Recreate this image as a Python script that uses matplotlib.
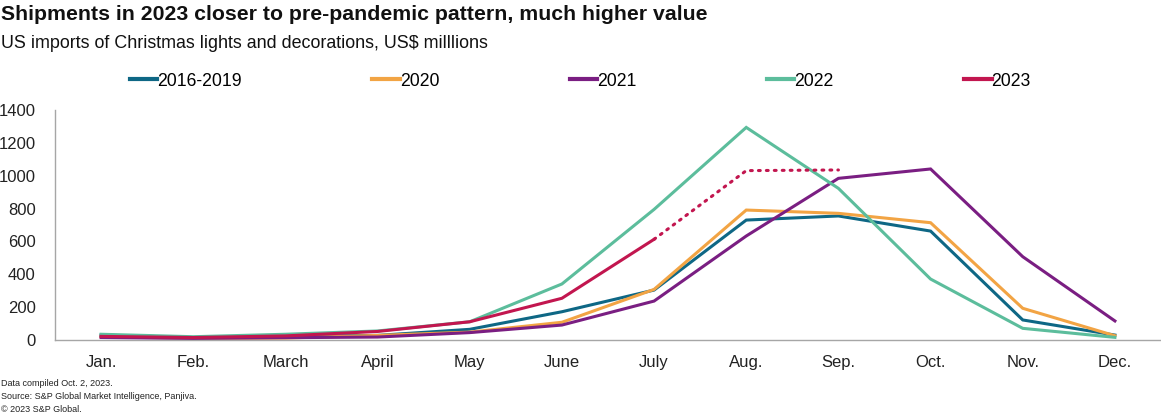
import matplotlib
matplotlib.use("Agg")
import matplotlib.pyplot as plt
from matplotlib.lines import Line2D

plt.rcParams['font.family'] = ['Liberation Sans', 'DejaVu Sans']

months = ["Jan.", "Feb.", "March", "April", "May", "June", "July",
          "Aug.", "Sep.", "Oct.", "Nov.", "Dec."]
s_2016_2019 = [30, 15, 22, 28, 65, 172, 304, 730, 755, 663, 122, 30]
s_2020 = [20, 10, 12, 28, 48, 108, 308, 791, 771, 714, 193, 26]
s_2021 = [15, 10, 14, 18, 45, 91, 237, 633, 984, 1041, 507, 116]
s_2022 = [35, 20, 35, 55, 111, 341, 795, 1294, 923, 371, 71, 16]
s_2023 = [22, 15, 25, 52, 111, 254, 613]
s_2023_proj = [613, 1031, 1035]  # July -> Sep. projection (dotted)

series = [("2016-2019", s_2016_2019, "#0E6785"),
          ("2020", s_2020, "#F2A444"),
          ("2021", s_2021, "#7A1E82"),
          ("2022", s_2022, "#5CBD9C"),
          ("2023", s_2023, "#C2164F")]

fig = plt.figure(figsize=(11.61, 4.16), dpi=100)
ax = fig.add_axes([55/1161, 1 - 340/416, 1 - 55/1161, 230/416])

x = list(range(len(months)))
for name, vals, col in series:
    ax.plot(x[:len(vals)], vals, color=col, lw=2.2, solid_joinstyle='miter', zorder=3)
ax.plot(x[6:9], s_2023_proj, color="#C2164F", lw=2.2, ls=(0, (0.6, 2.0)),
        dash_capstyle='round', zorder=3)

ax.set_xlim(-0.5, 11.5)
ax.set_ylim(0, 1400)
ax.set_yticks(range(0, 1401, 200))
ax.set_xticks(x)
ax.set_xticklabels(months)
ax.tick_params(axis='both', length=0, labelsize=12, colors="#222222")
ax.tick_params(axis='x', pad=11)
ax.tick_params(axis='y', pad=14)
for sp in ['top', 'right']:
    ax.spines[sp].set_visible(False)
for sp in ['left', 'bottom']:
    ax.spines[sp].set_color("#A6A6A6")
    ax.spines[sp].set_linewidth(1.0)

fig.text(1/1161, 1 - 14/416, "Shipments in 2023 closer to pre-pandemic pattern, much higher value",
         fontsize=15.3, fontweight='bold', va='center', ha='left', color="#111111")
fig.text(1/1161, 1 - 43/416, "US imports of Christmas lights and decorations, US$ milllions",
         fontsize=12.9, va='center', ha='left', color="#111111")

handles = [Line2D([0], [0], color=c, lw=3) for _, _, c in series]
labels = [n for n, _, _ in series]
leg = fig.legend(handles, labels, loc='center left', bbox_to_anchor=(130/1161, 1 - 81/416),
                 ncol=5, frameon=False, fontsize=12.7, handlelength=1.55, handletextpad=0.0,
                 columnspacing=7.4, borderpad=0, borderaxespad=0)

foot = ["Data compiled Oct. 2, 2023.",
        "Source: S&P Global Market Intelligence, Panjiva.",
        "\u00a9 2023 S&P Global."]
for i, t in enumerate(foot):
    fig.text(1/1161, 1 - (384 + i*12.5)/416, t, fontsize=6.5, va='center', ha='left', color="#222222")

fig.savefig("out.png", dpi=100)
